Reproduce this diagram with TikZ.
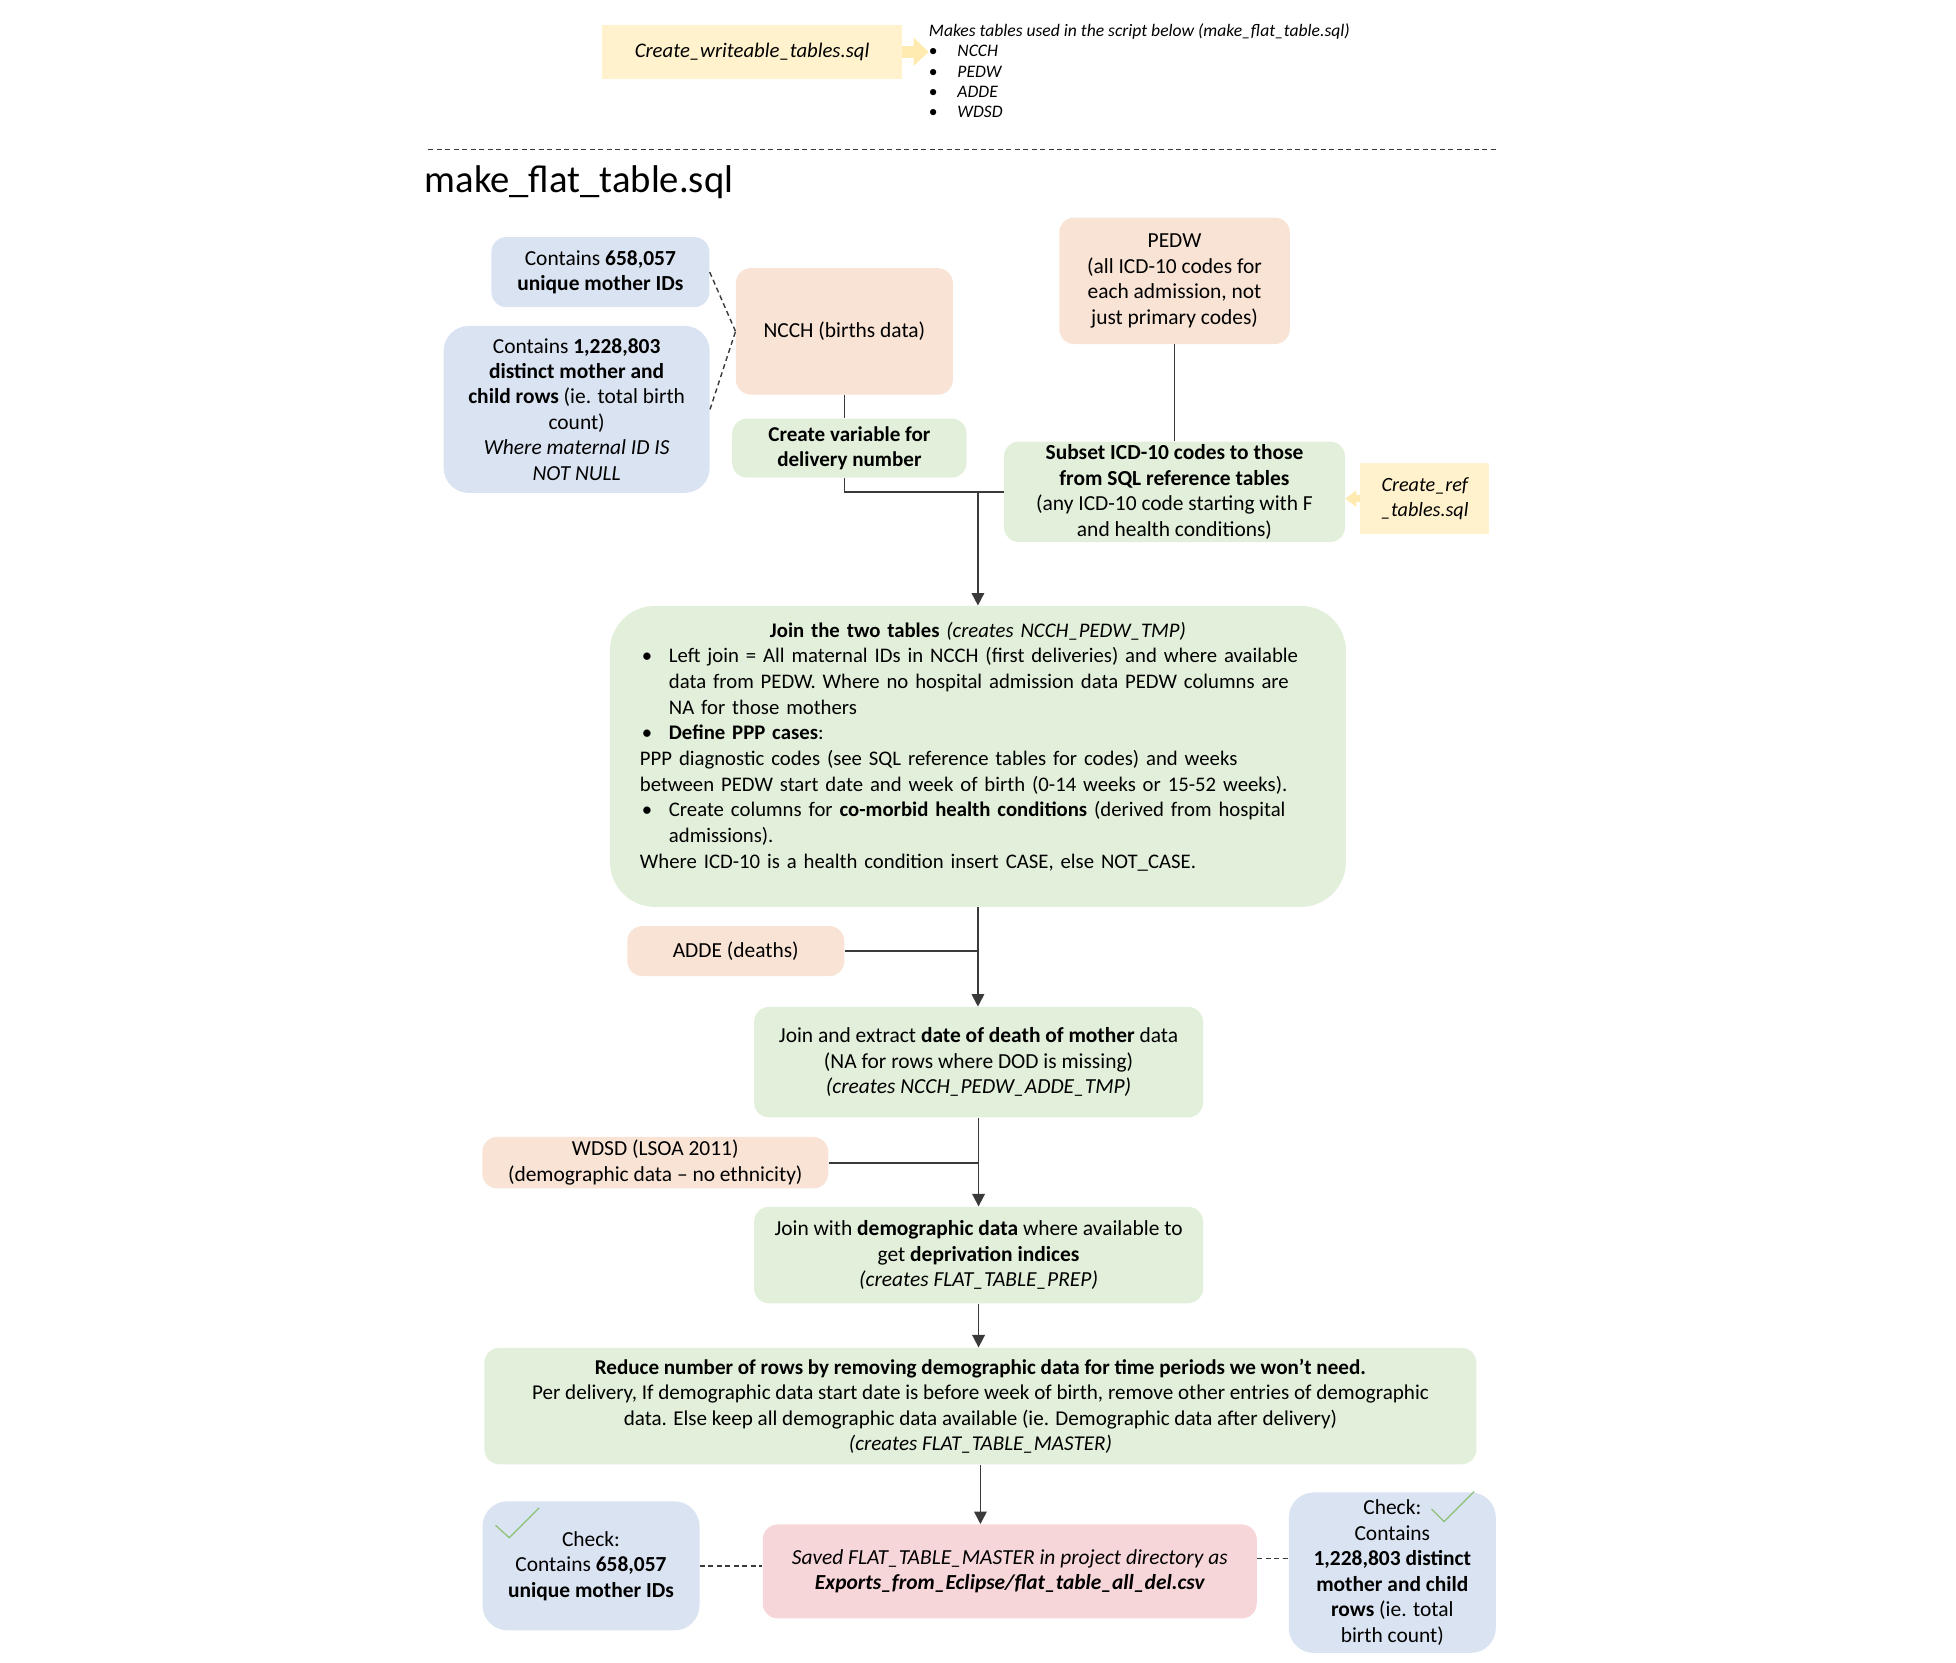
\documentclass[tikz,border=0pt]{standalone}
\usepackage{fontspec}
\setmainfont{Carlito}
\usetikzlibrary{arrows.meta, positioning}
\definecolor{peachfill}{HTML}{F9E3D5}
\definecolor{greenfill}{HTML}{E2EFDA}
\definecolor{bluefill}{HTML}{DAE3F1}
\definecolor{yellowfill}{HTML}{FFF2CC}
\definecolor{yellowarrow}{HTML}{FFEBB0}
\definecolor{pinkfill}{HTML}{F7D6D9}
\definecolor{tickgreen}{HTML}{8CC276}
\definecolor{linegray}{HTML}{3A3A3A}

\tikzset{
  basebox/.style={align=center, rounded corners=0.3cm, inner sep=0pt, font=\fontsize{12.2}{14.5}\selectfont},
  rawbox/.style={basebox, fill=peachfill},
  stepbox/.style={basebox, fill=greenfill},
  countbox/.style={basebox, fill=bluefill, rounded corners=0.5cm},
  scriptbox/.style={align=center, fill=yellowfill, inner sep=0pt, font=\fontsize{11.8}{14.5}\selectfont\itshape},
  flow/.style={draw=linegray, line width=1pt},
  flowarrow/.style={flow, -{Triangle[length=0.25cm, width=0.25cm]}},
  notelink/.style={draw=linegray, line width=0.8pt, dash pattern=on 0.1cm off 0.07cm},
  scriptarrow/.style={draw=yellowarrow, line width=0.25cm, -{Triangle[length=0.3cm, width=0.55cm]}},
  checkmark/.style={draw=tickgreen, line width=0.7pt},
}

\begin{document}
\begin{tikzpicture}[x=0.02496cm, y=-0.02496cm]
\useasboundingbox (0cm,0cm) rectangle (39.12cm,-33.24cm);

% Script that makes the writeable tables
\node[scriptbox, minimum width=5.99cm, minimum height=1.08cm] (writeable) at (602.5,41.5) {Create\_writeable\_tables.sql};
\node[anchor=north west, align=left, inner sep=0pt, font=\fontsize{10}{11.6}\selectfont\itshape] (madetables) at (744,18.5)
  {Makes tables used in the script below (make\_flat\_table.sql)\\
   \makebox[0.57cm][l]{\upshape\textbullet}NCCH\\
   \makebox[0.57cm][l]{\upshape\textbullet}PEDW\\
   \makebox[0.57cm][l]{\upshape\textbullet}ADDE\\
   \makebox[0.57cm][l]{\upshape\textbullet}WDSD};
\draw[scriptarrow] (writeable.east) -- (writeable.east -| madetables.west);

% Separator and script name
\draw[notelink] (343,120) -- (1200,120);
\node[anchor=west, inner sep=0pt, font=\fontsize{22}{26}\selectfont] (scripttitle) at (340,146) {make\_flat\_table.sql};

% Births data and its counts
\node[countbox, rounded corners=0.3cm, minimum width=4.36cm, minimum height=1.40cm] (uniqueids) at (481,218)
  {Contains \textbf{658,057}\\\textbf{unique mother IDs}};
\node[countbox, minimum width=5.32cm, minimum height=3.34cm] (birthrows) at (462,328)
  {Contains \textbf{1,228,803}\\\textbf{distinct mother and}\\\textbf{child rows} (ie. total birth\\count)\\\textit{Where maternal ID IS}\\\textit{NOT NULL}};
\node[rawbox, minimum width=4.34cm, minimum height=2.53cm] (ncch) at (676.5,265.5) {NCCH (births data)};
\node[stepbox, font=\fontsize{12}{14.5}\selectfont, minimum width=4.69cm, minimum height=1.18cm] (delivery) at (680.5,359)
  {\textbf{Create variable for}\\\textbf{delivery number}};
\draw[notelink] (uniqueids.east) -- (ncch.west);
\draw[notelink] (birthrows.east) -- (ncch.west);
\draw[flow] (ncch.south) -- (ncch.south |- delivery.north);

% Hospital admissions
\node[rawbox, minimum width=4.61cm, minimum height=2.53cm] (pedw) at (941,225)
  {PEDW\\(all ICD-10 codes for\\each admission, not\\just primary codes)};
\node[stepbox, minimum width=6.82cm, minimum height=2.01cm] (subset) at (941,394)
  {\textbf{Subset ICD-10 codes to those}\\\textbf{from SQL reference tables}\\(any ICD-10 code starting with F\\and health conditions)};
\node[scriptbox, font=\fontsize{11.5}{14.5}\selectfont\itshape, minimum width=2.58cm, minimum height=1.43cm] (refscript) at (1141.5,399.5) {Create\_ref\\\_tables.sql};
\draw[flow] (pedw) -- (subset);
\draw[scriptarrow, line width=0.15cm, -{Triangle[length=0.22cm, width=0.32cm]}] (refscript.west) -- (refscript.west -| subset.east);

% Join the two tables
\node[stepbox, rounded corners=0.9cm, align=left, text width=13.52cm, inner xsep=0.6cm, minimum height=6.02cm,
      font=\fontsize{11.8}{14.6}\selectfont] (join) at (783.5,606)
  {{\centering\textbf{Join the two tables} \textit{(creates NCCH\_PEDW\_TMP)}\par}
   \makebox[0.58cm][l]{\hspace{0.04cm}\textbullet}Left join = All maternal IDs in NCCH (first deliveries) and where available\\
   \hspace*{0.58cm}data from PEDW. Where no hospital admission data PEDW columns are\\
   \hspace*{0.58cm}NA for those mothers\\
   \makebox[0.58cm][l]{\hspace{0.04cm}\textbullet}\textbf{Define PPP cases}:\\
   PPP diagnostic codes (see SQL reference tables for codes) and weeks\\
   between PEDW start date and week of birth (0-14 weeks or 15-52 weeks).\\
   \makebox[0.58cm][l]{\hspace{0.04cm}\textbullet}Create columns for \textbf{co-morbid health conditions} (derived from hospital\\
   \hspace*{0.58cm}admissions).\\
   Where ICD-10 is a health condition insert CASE, else NOT\_CASE.\\[-0.22cm]
   \strut};
\draw[flow] (ncch.south |- delivery.south) |- (subset.west);
\draw[flowarrow] (join.north |- subset.west) -- (join.north);

% Deaths
\node[rawbox, minimum width=4.34cm, minimum height=1.0cm] (adde) at (589.5,762) {ADDE (deaths)};
\node[stepbox, minimum width=8.98cm, minimum height=2.21cm] (death) at (784,851)
  {Join and extract \textbf{date of death of mother} data\\(NA for rows where DOD is missing)\\\textit{(creates NCCH\_PEDW\_ADDE\_TMP)}};
\draw[flowarrow] (join.south) -- (join.south |- death.north);
\draw[flow] (adde.east) -- (adde.east -| death.north);

% Demographic data
\node[rawbox, minimum width=6.92cm, minimum height=1.03cm] (wdsd) at (525,931.5)
  {WDSD (LSOA 2011)\\(demographic data -- no ethnicity)};
\node[stepbox, minimum width=8.98cm, minimum height=1.93cm] (demog) at (784,1005.5)
  {Join with \textbf{demographic data} where available to\\get \textbf{deprivation indices}\\\textit{(creates FLAT\_TABLE\_PREP)}};
\draw[flowarrow] (death.south) -- (death.south |- demog.north);
\draw[flow] (wdsd.east) -- (wdsd.east -| demog.north);

% Reduce rows
\node[stepbox, font=\fontsize{12}{14.5}\selectfont, minimum width=19.84cm, minimum height=2.33cm] (reduce) at (785.5,1126.5)
  {\textbf{Reduce number of rows by removing demographic data for time periods we won’t need.}\\
   Per delivery, If demographic data start date is before week of birth, remove other entries of demographic\\
   data. Else keep all demographic data available (ie. Demographic data after delivery)\\
   \textit{(creates FLAT\_TABLE\_MASTER)}};
\draw[flowarrow] (demog.south) -- (demog.south |- reduce.north);

% Saved output and checks
\node[basebox, fill=pinkfill, font=\fontsize{12.2}{14.5}\selectfont\itshape, minimum width=9.88cm, minimum height=1.88cm] (saved) at (809,1259)
  {Saved FLAT\_TABLE\_MASTER in project directory as\\\textbf{Exports\_from\_Eclipse/flat\_table\_all\_del.csv}};
\draw[flowarrow] (reduce.south) -- (reduce.south |- saved.north);
\node[countbox, minimum width=4.34cm, minimum height=2.58cm] (checkleft) at (473.5,1254.5)
  {Check:\\Contains \textbf{658,057}\\\textbf{unique mother IDs}};
\node[countbox, minimum width=4.14cm, minimum height=3.21cm] (checkright) at (1115.5,1260)
  {Check:\\Contains\\\textbf{1,228,803 distinct}\\\textbf{mother and child}\\\textbf{rows} (ie. total\\birth count)};
\draw[notelink] (checkleft.east) -- (checkleft.east -| saved.west);
\draw[notelink] ([yshift=0.26cm]saved.east) -- ([yshift=0.26cm]saved.east -| checkright.west);
\draw[checkmark] (397,1222) -- (408,1232) -- (432,1208);
\draw[checkmark] (1147,1209) -- (1157,1219) -- (1181,1195);
\end{tikzpicture}
\end{document}
